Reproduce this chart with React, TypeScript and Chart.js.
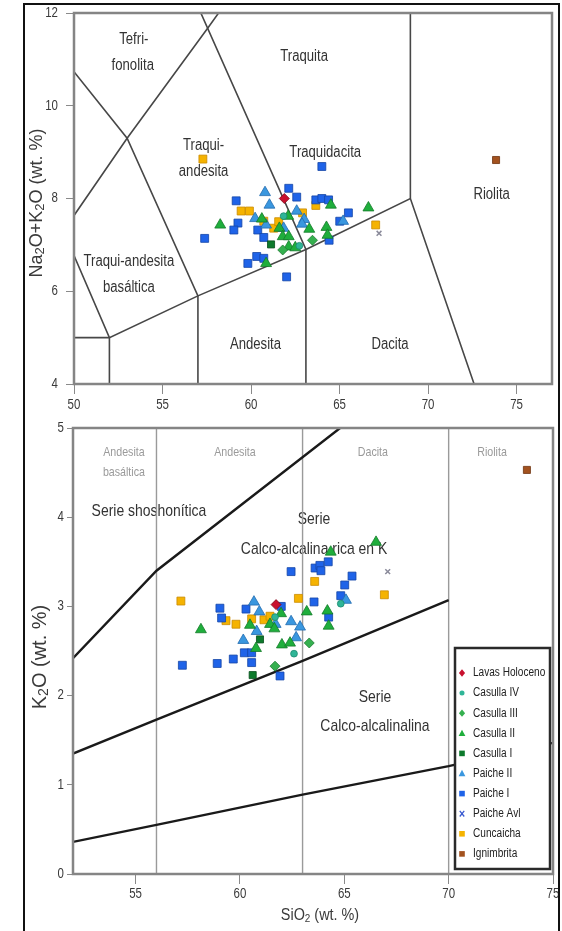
import React, { useEffect, useRef } from "react";
import { Chart, registerables } from "chart.js";
Chart.register(...registerables);

type P = [number, number];
type Lbl = [string, number, number];

// ---------- Tick labels ----------
const tasXTicks = [50, 55, 60, 65, 70, 75];
const tasYTicks = [4, 6, 8, 10, 12];
const kXTicks = [55, 60, 65, 70, 75];
const kYTicks = [0, 1, 2, 3, 4, 5];

// ---------- Series ----------
const seriesNames = [
  "Lavas Holoceno", "Casulla IV", "Casulla III", "Casulla II", "Casulla I",
  "Paiche II", "Paiche I", "Paiche Avl", "Cuncaicha", "Ignimbrita",
];

// TAS diagram values [SiO2, Na2O+K2O]
const tasLavasHoloceno: P[] = [[61.88, 8.0]];
const tasCasullaIV: P[] = [[61.84, 7.62], [62.73, 6.98]];
const tasCasullaIII: P[] = [[61.79, 6.89], [63.47, 7.1]];
const tasCasullaII: P[] = [[58.26, 7.43], [60.61, 7.56], [61.6, 7.36], [62.1, 7.62], [61.79, 7.18], [62.13, 7.18], [62.13, 6.96], [62.5, 6.94], [63.29, 7.34], [64.51, 7.86], [64.26, 7.38], [64.32, 7.21], [66.63, 7.8], [60.85, 6.6]];
const tasCasullaI: P[] = [[61.13, 7.01]];
const tasPaicheII: P[] = [[60.79, 8.13], [61.04, 7.86], [60.23, 7.57], [60.85, 7.43], [61.84, 7.36], [62.58, 7.73], [63.0, 7.55], [62.88, 7.45], [65.2, 7.51]];
const tasPaicheI: P[] = [[64.0, 8.69], [62.13, 8.22], [62.58, 8.03], [59.16, 7.95], [59.26, 7.47], [59.03, 7.32], [57.38, 7.14], [60.38, 7.32], [60.72, 7.16], [63.66, 7.97], [64.0, 8.0], [64.38, 7.97], [64.41, 7.1], [65.01, 7.51], [65.5, 7.69], [59.82, 6.6], [60.32, 6.75], [60.72, 6.71], [62.01, 6.31]];
const tasPaicheAvl: P[] = [[67.23, 7.25]];
const tasCuncaicha: P[] = [[57.28, 8.85], [59.44, 7.73], [59.91, 7.73], [60.72, 7.51], [61.28, 7.36], [61.56, 7.5], [62.91, 7.69], [63.66, 7.85], [67.04, 7.43]];
const tasIgnimbrita: P[] = [[73.84, 8.83]];

// K2O diagram values [SiO2, K2O]
const kLavasHoloceno: P[] = [[61.73, 3.02]];
const kCasullaIV: P[] = [[61.68, 2.88], [62.59, 2.47], [64.83, 3.03]];
const kCasullaIII: P[] = [[61.68, 2.33], [63.32, 2.59]];
const kCasullaII: P[] = [[58.13, 2.74], [60.48, 2.79], [60.77, 2.53], [61.44, 2.8], [61.65, 2.75], [61.97, 2.92], [62.01, 2.57], [62.4, 2.59], [63.2, 2.94], [64.35, 3.61], [64.19, 2.95], [64.25, 2.78], [66.52, 3.72]];
const kCasullaI: P[] = [[60.61, 2.23], [60.96, 2.63]];
const kPaicheII: P[] = [[60.16, 2.62], [60.67, 3.05], [60.93, 2.94], [60.8, 2.72], [61.71, 2.8], [62.45, 2.83], [62.88, 2.77], [62.69, 2.65], [65.08, 3.07]];
const kPaicheI: P[] = [[57.24, 2.34], [58.91, 2.36], [59.68, 2.41], [59.04, 2.98], [59.12, 2.87], [60.29, 2.97], [60.21, 2.48], [60.56, 2.48], [60.56, 2.37], [61.98, 3.0], [61.92, 2.22], [62.45, 3.39], [63.55, 3.05], [63.6, 3.43], [63.83, 3.46], [63.88, 3.4], [64.23, 3.5], [64.25, 2.88], [64.83, 3.12], [65.02, 3.24], [65.37, 3.34]];
const kPaicheAvl: P[] = [[67.08, 3.39]];
const kCuncaicha: P[] = [[57.17, 3.06], [59.33, 2.84], [59.81, 2.8], [60.56, 2.86], [61.15, 2.85], [61.44, 2.89], [62.8, 3.09], [63.58, 3.28], [66.92, 3.13]];
const kIgnimbrita: P[] = [[73.75, 4.53]];

// ---------- Field boundaries ----------
const tasBoundaries: P[][] = [
  [[50, 5], [52, 5], [57, 5.9], [63.1, 6.9], [69, 8], [72.6, 4]],
  [[69, 8], [69, 12]],
  [[52, 4], [52, 5], [49.4, 7.3]],
  [[57, 4], [57, 5.9], [53, 9.3], [48.4, 11.5]],
  [[63.1, 4], [63.1, 6.9], [56.7, 12.4]],
  [[49.4, 7.3], [53, 9.3], [57.6, 11.7], [61, 13.5]],
];
const kSeriesBoundaries: P[][] = [
  [[52, 2.42], [56, 3.4], [64.8, 5]],
  [[52, 1.35], [56, 1.73], [63, 2.39], [70, 3.07]],
  [[52, 0.36], [56, 0.55], [63, 0.89], [70, 1.21], [75, 1.47]],
];
const kRockDividers: P[][] = [
  [[56, 0], [56, 5]],
  [[63, 0], [63, 5]],
  [[70, 0], [70, 5]],
];

// ---------- Field names ----------
const tasLabels: Lbl[] = [
  ["Tefri-", 53.38, 11.42], ["fonolita", 53.32, 10.86], ["Traquita", 63.0, 11.05],
  ["Traqui-", 57.32, 9.15], ["andesita", 57.32, 8.57], ["Traquidacita", 64.19, 8.98],
  ["Riolita", 73.59, 8.08], ["Traqui-andesita", 53.1, 6.63], ["basáltica", 53.1, 6.07],
  ["Andesita", 60.25, 4.84], ["Dacita", 67.85, 4.84],
];
const kRockLabels: Lbl[] = [
  ["Andesita", 54.44, 4.73], ["basáltica", 54.44, 4.5], ["Andesita", 59.76, 4.73],
  ["Dacita", 66.37, 4.73], ["Riolita", 72.08, 4.73],
];
const kSeriesLabels: Lbl[] = [
  ["Serie shoshonítica", 55.64, 4.07], ["Serie", 63.55, 3.98], ["Calco-alcalina rica en K", 63.55, 3.64],
  ["Serie", 66.47, 1.98], ["Calco-alcalinalina", 66.47, 1.66],
];

// ---------- Styles ----------
const SANS = '"Liberation Sans", Arial, sans-serif';
const SQUEEZE = 0.82;

const markerStyles = [
  { style: "rectRot", fill: "#c8102e", stroke: "#7d0a1c", r: 5.0, legend: "#c8102e" },
  { style: "circle", fill: "#2fb597", stroke: "#1d8a70", r: 3.4, legend: "#2fb597" },
  { style: "rectRot", fill: "#35b04f", stroke: "#1f7a34", r: 5.0, legend: "#35b04f" },
  { style: "triangle", fill: "#1fae3c", stroke: "#137a28", r: 6.3, legend: "#1fae3c" },
  { style: "rect", fill: "#0d7a2c", stroke: "#064d1a", r: 5.0, legend: "#0d7a2c" },
  { style: "triangle", fill: "#3a97df", stroke: "#216bb0", r: 6.3, legend: "#3a97df" },
  { style: "rect", fill: "#1f63e8", stroke: "#1445a6", r: 5.6, legend: "#1f63e8" },
  { style: "crossRot", fill: "#8a8a9a", stroke: "#8a8a9a", r: 3.4, legend: "#3a5ad0" },
  { style: "rect", fill: "#f5b301", stroke: "#c98a00", r: 5.6, legend: "#f5b301" },
  { style: "rect", fill: "#a3521f", stroke: "#6e3410", r: 5.0, legend: "#a3521f" },
];

const tasSeries = [tasLavasHoloceno, tasCasullaIV, tasCasullaIII, tasCasullaII, tasCasullaI, tasPaicheII, tasPaicheI, tasPaicheAvl, tasCuncaicha, tasIgnimbrita];
const kSeries = [kLavasHoloceno, kCasullaIV, kCasullaIII, kCasullaII, kCasullaI, kPaicheII, kPaicheI, kPaicheAvl, kCuncaicha, kIgnimbrita];

function markerDatasets(series: P[][]) {
  return series.map((pts, i) => ({
    label: seriesNames[i],
    data: pts.map(([x, y]) => ({ x, y })),
    pointStyle: markerStyles[i].style,
    pointRadius: markerStyles[i].r,
    backgroundColor: markerStyles[i].fill,
    borderColor: markerStyles[i].stroke,
    pointBorderWidth: markerStyles[i].style === "crossRot" ? 1.5 : 0.8,
    showLine: false,
    order: 0,
  }));
}

function lineDatasets(lines: P[][], color: string, width: number) {
  return lines.map((pts) => ({
    data: pts.map(([x, y]) => ({ x, y })),
    showLine: true,
    pointRadius: 0,
    borderColor: color,
    borderWidth: width,
    fill: false,
    tension: 0,
    order: 5,
  }));
}

// condensed text (the reference uses a narrow face)
function sText(ctx: CanvasRenderingContext2D, t: string, x: number, y: number, sx = SQUEEZE) {
  ctx.save();
  ctx.translate(x, y);
  ctx.scale(sx, 1);
  ctx.fillText(t, 0, 0);
  ctx.restore();
}

function drawSub(ctx: CanvasRenderingContext2D, parts: [string, boolean][], cx: number, cy: number, size: number, color: string, rotate: boolean, sx: number) {
  ctx.save();
  ctx.translate(cx, cy);
  if (rotate) ctx.rotate(-Math.PI / 2);
  ctx.scale(sx, 1);
  const big = `${size}px ${SANS}`;
  const small = `${Math.round(size * 0.7)}px ${SANS}`;
  let total = 0;
  parts.forEach(([t, s]) => { ctx.font = s ? small : big; total += ctx.measureText(t).width; });
  let x = -total / 2;
  ctx.fillStyle = color;
  ctx.textBaseline = "middle";
  ctx.textAlign = "left";
  parts.forEach(([t, s]) => {
    ctx.font = s ? small : big;
    ctx.fillText(t, x, s ? size * 0.2 : 0);
    x += ctx.measureText(t).width;
  });
  ctx.restore();
}

function drawMarker(ctx: CanvasRenderingContext2D, style: string, x: number, y: number, r: number, color: string) {
  ctx.save();
  ctx.fillStyle = color;
  ctx.strokeStyle = color;
  ctx.beginPath();
  if (style === "rect") ctx.rect(x - r, y - r, 2 * r, 2 * r);
  else if (style === "rectRot") { ctx.moveTo(x, y - r * 1.3); ctx.lineTo(x + r * 1.1, y); ctx.lineTo(x, y + r * 1.3); ctx.lineTo(x - r * 1.1, y); ctx.closePath(); }
  else if (style === "circle") ctx.arc(x, y, r * 0.9, 0, Math.PI * 2);
  else if (style === "triangle") { ctx.moveTo(x, y - r * 1.3); ctx.lineTo(x + r * 1.2, y + r); ctx.lineTo(x - r * 1.2, y + r); ctx.closePath(); }
  if (style === "crossRot") {
    ctx.lineWidth = 1.3;
    ctx.moveTo(x - r * 0.8, y - r); ctx.lineTo(x + r * 0.8, y + r);
    ctx.moveTo(x + r * 0.8, y - r); ctx.lineTo(x - r * 0.8, y + r);
    ctx.stroke();
  } else ctx.fill();
  ctx.restore();
}

function textPlugin(id: string, groups: { labels: Lbl[]; font: string; color: string }[]) {
  return {
    id,
    beforeDatasetsDraw(chart: any) {
      const { ctx, scales } = chart;
      ctx.save();
      ctx.textAlign = "center";
      ctx.textBaseline = "middle";
      groups.forEach((g) => {
        ctx.font = g.font;
        ctx.fillStyle = g.color;
        g.labels.forEach(([t, lx, ly]) => sText(ctx, t, scales.x.getPixelForValue(lx), scales.y.getPixelForValue(ly)));
      });
      ctx.restore();
    },
  };
}

// tick labels drawn in a condensed face at the library's tick positions
function tickLabelPlugin(id: string, xTicks: number[], yTicks: number[], xGap: number, yGap: number) {
  return {
    id,
    afterDraw(chart: any) {
      const { ctx, scales, chartArea: a } = chart;
      ctx.save();
      ctx.font = `14px ${SANS}`;
      ctx.fillStyle = "#3a3a3a";
      ctx.textBaseline = "middle";
      ctx.textAlign = "center";
      xTicks.forEach((v) => sText(ctx, String(v), scales.x.getPixelForValue(v), a.bottom + xGap));
      ctx.textAlign = "right";
      yTicks.forEach((v) => sText(ctx, String(v), a.left - yGap, scales.y.getPixelForValue(v)));
      ctx.restore();
    },
  };
}

const frameBox = {
  id: "frameBox",
  afterDatasetsDraw(chart: any) {
    const { ctx, chartArea: a } = chart;
    ctx.save();
    ctx.strokeStyle = "#858585";
    ctx.lineWidth = 2.5;
    ctx.strokeRect(a.left, a.top, a.right - a.left, a.bottom - a.top);
    ctx.restore();
  },
};

function axes(xMin: number, xMax: number, yMin: number, yMax: number, xTicks: number[], yTicks: number[], yWidth: number, xHeight: number, yTickLen: number) {
  return {
    x: {
      type: "linear", min: xMin, max: xMax,
      afterBuildTicks: (s: any) => { s.ticks = xTicks.map((v) => ({ value: v })); },
      afterFit: (s: any) => { s.height = xHeight; },
      grid: { drawOnChartArea: false, drawTicks: true, tickLength: 10, color: "#8a8a8a", lineWidth: 1 },
      border: { display: false },
      ticks: { display: false },
    },
    y: {
      type: "linear", min: yMin, max: yMax,
      afterBuildTicks: (s: any) => { s.ticks = yTicks.map((v) => ({ value: v })); },
      afterFit: (s: any) => { s.width = yWidth; },
      grid: { drawOnChartArea: false, drawTicks: true, tickLength: yTickLen, color: "#8a8a8a", lineWidth: 1 },
      border: { display: false },
      ticks: { display: false },
    },
  };
}

export default function App() {
  const topRef = useRef<HTMLCanvasElement>(null);
  const botRef = useRef<HTMLCanvasElement>(null);

  useEffect(() => {
    document.body.style.margin = "0";
    const topChart = new Chart(topRef.current!, {
      type: "scatter",
      data: { datasets: [...markerDatasets(tasSeries), ...lineDatasets(tasBoundaries, "#474747", 1.6)] as any },
      options: {
        animation: false, responsive: false, events: [],
        layout: { padding: { left: 0, top: 13, right: 10, bottom: 0 } },
        plugins: { legend: { display: false }, tooltip: { enabled: false } },
        scales: axes(50, 77, 4, 12, tasXTicks, tasYTicks, 74, 36, 8) as any,
      },
      plugins: [
        textPlugin("tasText", [{ labels: tasLabels, font: `16px ${SANS}`, color: "#333333" }]),
        frameBox,
        tickLabelPlugin("tasTicks", tasXTicks, tasYTicks, 21, 16),
        {
          id: "tasTitle",
          afterDraw(chart: any) {
            drawSub(chart.ctx, [["Na", false], ["2", true], ["O+K", false], ["2", true], ["O (wt. %)", false]], 37, 203, 18, "#3a3a3a", true, 1);
          },
        },
      ],
    });

    const botChart = new Chart(botRef.current!, {
      type: "scatter",
      data: {
        datasets: [
          ...markerDatasets(kSeries),
          ...lineDatasets(kSeriesBoundaries, "#1a1a1a", 2.4),
          ...lineDatasets(kRockDividers, "#9a9a9a", 1.4),
        ] as any,
      },
      options: {
        animation: false, responsive: false, events: [],
        layout: { padding: { left: 0, top: 8, right: 9, bottom: 0 } },
        plugins: { legend: { display: false }, tooltip: { enabled: false } },
        scales: axes(52, 75, 0, 5, kXTicks, kYTicks, 73, 57, 6) as any,
      },
      plugins: [
        textPlugin("kText", [
          { labels: kRockLabels, font: `13px ${SANS}`, color: "#9a9a9a" },
          { labels: kSeriesLabels, font: `17px ${SANS}`, color: "#333333" },
        ]),
        frameBox,
        tickLabelPlugin("kTicks", kXTicks, kYTicks, 20, 9),
        {
          id: "kTitleLegend",
          afterDraw(chart: any) {
            const ctx = chart.ctx as CanvasRenderingContext2D;
            drawSub(ctx, [["K", false], ["2", true], ["O (wt. %)", false]], 40, 237, 20, "#3a3a3a", true, 1);
            drawSub(ctx, [["SiO", false], ["2", true], [" (wt. %)", false]], 320, 496, 16, "#3a3a3a", false, 0.9);
            // legend
            const a = chart.chartArea;
            const lx = a.right - 98, ly = a.top + 220, lw = 95, lh = 221;
            ctx.save();
            ctx.fillStyle = "#ffffff";
            ctx.fillRect(lx, ly, lw, lh);
            ctx.strokeStyle = "#2a2a2a";
            ctx.lineWidth = 2.5;
            ctx.strokeRect(lx, ly, lw, lh);
            ctx.font = `12px ${SANS}`;
            ctx.textBaseline = "middle";
            ctx.textAlign = "left";
            seriesNames.forEach((name, i) => {
              const yy = ly + 25 + i * 20.1;
              drawMarker(ctx, markerStyles[i].style, lx + 7, yy, 2.8, markerStyles[i].legend);
              ctx.fillStyle = "#222222";
              sText(ctx, name, lx + 18, yy, 0.84);
            });
            ctx.restore();
          },
        },
      ],
    });

    return () => { topChart.destroy(); botChart.destroy(); };
  }, []);

  return (
    <div style={{ position: "relative", width: 562, height: 931, overflow: "hidden", background: "#fff" }}>
      <canvas ref={topRef} width={562} height={420} style={{ position: "absolute", left: 0, top: 0, width: 562, height: 420 }} />
      <canvas ref={botRef} width={562} height={511} style={{ position: "absolute", left: 0, top: 420, width: 562, height: 511 }} />
      <div style={{ position: "absolute", left: 23, top: 3, width: 533, height: 1000, border: "2px solid #111", pointerEvents: "none" }} />
    </div>
  );
}
